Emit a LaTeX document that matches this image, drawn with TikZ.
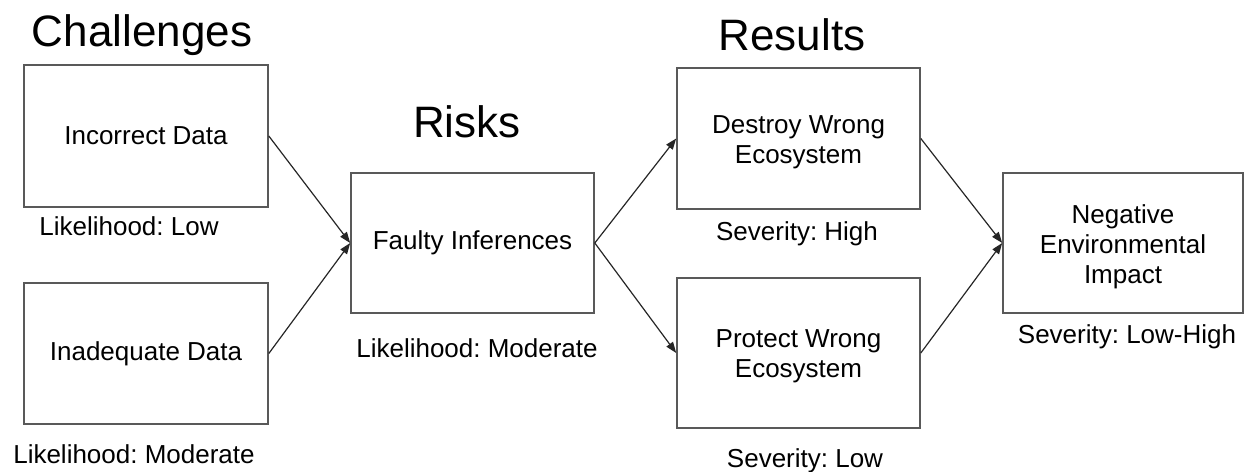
\documentclass[tikz,border=0pt]{standalone}
\usepackage{fontspec}
\setmainfont{Liberation Sans}
\usetikzlibrary{arrows.meta}
\definecolor{boxgray}{HTML}{595959}
\definecolor{linegray}{HTML}{262626}
\begin{document}
\frenchspacing
\begin{tikzpicture}[x=1pt,y=-1pt,
  box/.style={draw=boxgray, line width=1.6pt, minimum width=243pt, minimum height=141pt, inner sep=0pt, align=center, font=\fontsize{26}{30}\selectfont},
  boxtext/.style={inner sep=0pt, align=center, font=\fontsize{26}{30}\selectfont},
  lbl/.style={anchor=base, inner sep=0pt, font=\fontsize{26}{30}\selectfont},
  ttl/.style={anchor=base, inner sep=0pt, font=\fontsize{44}{50}\selectfont},
  conn/.style={draw=linegray, line width=1.2pt, -{Triangle[length=11pt,width=8pt]}}]
\useasboundingbox (0,0) rectangle (1244,471);
% titles
\node[ttl] (tchal) at (142,46) {Challenges};
\node[ttl] (trisk) at (467,137) {Risks};
\node[ttl] (tres) at (792,50) {Results};
% boxes
\node[box, minimum width=244pt, minimum height=142pt] (inc) at (146,136) {Incorrect Data};
\node[box, minimum width=244pt] (inad) at (146,353.5) {Inadequate Data};
\node[box, minimum height=140pt] (faulty) at (472.5,243) {Faulty Inferences};
\node[box] (destroy) at (798.5,138.5) {};
\node[boxtext] (destroyt) at ([yshift=-4pt]destroy.center) {Destroy Wrong\\Ecosystem};
\node[box, minimum height=150pt] (protect) at (798.5,353) {};
\node[boxtext] (protectt) at ([yshift=-3pt]protect.center) {Protect Wrong\\Ecosystem};
\node[box, minimum width=240pt, minimum height=140pt] (neg) at (1123,243) {};
\node[boxtext] (negt) at ([yshift=-4pt]neg.center) {Negative\\Environmental\\Impact};
% labels
\node[lbl] (l1) at (129,235) {Likelihood: Low};
\node[lbl] (l2) at (134,463) {Likelihood: Moderate};
\node[lbl] (l3) at (477,357) {Likelihood: Moderate};
\node[lbl] (s1) at (797,240) {Severity: High};
\node[lbl] (s2) at (805,467) {Severity: Low};
\node[lbl] (s3) at (1127,343) {Severity: Low-High};
% connectors
\draw[conn] (inc.east) -- (faulty.west);
\draw[conn] (inad.east) -- (faulty.west);
\draw[conn] (faulty.east) -- (destroy.west);
\draw[conn] (faulty.east) -- (protect.west);
\draw[conn] (destroy.east) -- (neg.west);
\draw[conn] (protect.east) -- (neg.west);
\end{tikzpicture}
\end{document}
